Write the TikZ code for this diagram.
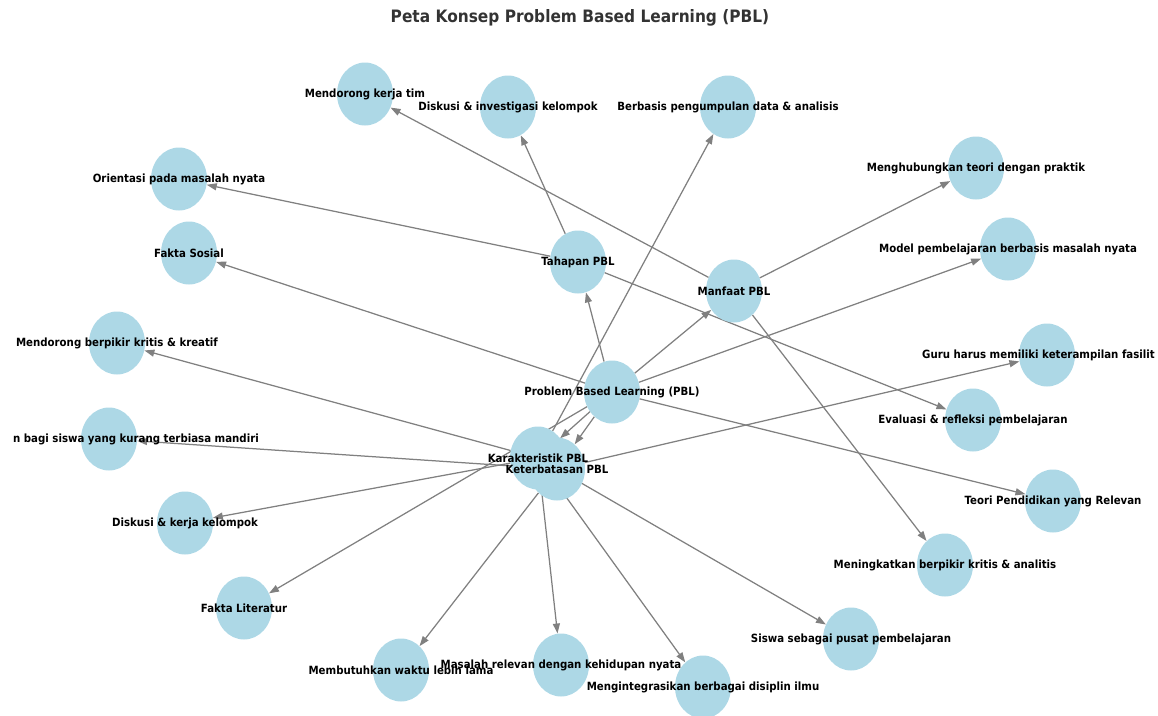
\documentclass[tikz,border=0pt]{standalone}
\usepackage{fontspec}
\setmainfont{DejaVu Sans}
\usetikzlibrary{shapes.geometric,arrows.meta}
\definecolor{nodeblue}{HTML}{ADD8E6}
\definecolor{edgegray}{HTML}{808080}
\definecolor{titlegray}{HTML}{333333}
\pgfdeclarelayer{edges}
\pgfsetlayers{edges,main}
\tikzset{
  concept/.style={ellipse, fill=nodeblue, draw=none, minimum width=56pt, minimum height=63pt, inner sep=0pt},
  lbl/.style={inner sep=0pt, font=\fontsize{10.2}{12}\selectfont\bfseries, text=black},
  edge/.style={draw=edgegray, line width=1.25pt, -{Triangle[length=10pt,width=7pt]}},
  titletext/.style={inner sep=0pt, font=\fontsize{15.4}{18}\selectfont\bfseries, text=titlegray}
}
\newcommand{\tallbox}[1]{\scalebox{1}[1.11]{#1}}
\begin{document}
\begin{tikzpicture}[x=1pt,y=-1pt]
\useasboundingbox (0,0) rectangle (1158,715);
\clip (0,0) rectangle (1158,715);
\node[titletext] (title) at (580,18) {\tallbox{Peta Konsep Problem Based Learning (PBL)}};
% ellipses
\node[concept] (pbl) at (612,392) {};
\node[concept] (tah) at (578,262) {};
\node[concept] (man) at (734,291) {};
\node[concept] (kar) at (538,458) {};
\node[concept] (ket) at (557,469) {};
\node[concept] (mkt) at (365,94) {};
\node[concept] (dik) at (508,107) {};
\node[concept] (ber) at (728,107) {};
\node[concept] (ori) at (179,179) {};
\node[concept] (mhb) at (976,168) {};
\node[concept] (fso) at (189,253) {};
\node[concept] (mod) at (1008,249) {};
\node[concept] (mbk) at (117,343) {};
\node[concept] (gur) at (1047,355) {};
\node[concept] (tan) at (109,439) {};
\node[concept] (eva) at (973,420) {};
\node[concept] (dkk) at (185,523) {};
\node[concept] (teo) at (1053,501) {};
\node[concept] (mna) at (945,565) {};
\node[concept] (fli) at (244,608) {};
\node[concept] (sis) at (851,639) {};
\node[concept] (mbw) at (401,670) {};
\node[concept] (mrl) at (561,665) {};
\node[concept] (mid) at (703,687) {};
% edges
\begin{pgfonlayer}{edges}
\draw[edge] (pbl) -- (tah);
\draw[edge] (pbl) -- (man);
\draw[edge] (pbl) -- (kar);
\draw[edge] (pbl) -- (ket);
\draw[edge] (pbl) -- (fso);
\draw[edge] (pbl) -- (fli);
\draw[edge] (pbl) -- (mod);
\draw[edge] (pbl) -- (teo);
\draw[edge] (tah) -- (dik);
\draw[edge] (tah) -- (ori);
\draw[edge] (tah) -- (eva);
\draw[edge] (man) -- (mkt);
\draw[edge] (man) -- (mhb);
\draw[edge] (man) -- (mna);
\draw[edge] (kar) -- (ber);
\draw[edge] (kar) -- (mbk);
\draw[edge] (kar) -- (dkk);
\draw[edge] (kar) -- (mrl);
\draw[edge] (kar) -- (mid);
\draw[edge] (kar) -- (sis);
\draw[edge] (ket) -- (mbw);
\draw[edge] (ket) -- (tan);
\draw[edge] (ket) -- (gur);
\end{pgfonlayer}
% labels
\node[lbl] (pbl-t) at (pbl.center) {\tallbox{Problem Based Learning (PBL)}};
\node[lbl] (tah-t) at (tah.center) {\tallbox{Tahapan PBL}};
\node[lbl] (man-t) at (man.center) {\tallbox{Manfaat PBL}};
\node[lbl] (kar-t) at (kar.center) {\tallbox{Karakteristik PBL}};
\node[lbl] (ket-t) at (ket.center) {\tallbox{Keterbatasan PBL}};
\node[lbl] (mkt-t) at (mkt.center) {\tallbox{Mendorong kerja tim}};
\node[lbl] (dik-t) at (dik.center) {\tallbox{Diskusi \& investigasi kelompok}};
\node[lbl] (ber-t) at (ber.center) {\tallbox{Berbasis pengumpulan data \& analisis}};
\node[lbl] (ori-t) at (ori.center) {\tallbox{Orientasi pada masalah nyata}};
\node[lbl] (mhb-t) at (mhb.center) {\tallbox{Menghubungkan teori dengan praktik}};
\node[lbl] (fso-t) at (fso.center) {\tallbox{Fakta Sosial}};
\node[lbl] (mod-t) at (mod.center) {\tallbox{Model pembelajaran berbasis masalah nyata}};
\node[lbl] (mbk-t) at (mbk.center) {\tallbox{Mendorong berpikir kritis \& kreatif}};
\node[lbl,anchor=west] (gur-t) at (922,355) {\tallbox{Guru harus memiliki keterampilan fasilit}};
\node[lbl,anchor=east] (tan-t) at (259,439) {\tallbox{n bagi siswa yang kurang terbiasa mandiri}};
\node[lbl] (eva-t) at (eva.center) {\tallbox{Evaluasi \& refleksi pembelajaran}};
\node[lbl] (dkk-t) at (dkk.center) {\tallbox{Diskusi \& kerja kelompok}};
\node[lbl] (teo-t) at (teo.center) {\tallbox{Teori Pendidikan yang Relevan}};
\node[lbl] (mna-t) at (mna.center) {\tallbox{Meningkatkan berpikir kritis \& analitis}};
\node[lbl] (fli-t) at (fli.center) {\tallbox{Fakta Literatur}};
\node[lbl] (sis-t) at (sis.center) {\tallbox{Siswa sebagai pusat pembelajaran}};
\node[lbl] (mbw-t) at (mbw.center) {\tallbox{Membutuhkan waktu lebih lama}};
\node[lbl] (mrl-t) at (mrl.center) {\tallbox{Masalah relevan dengan kehidupan nyata}};
\node[lbl] (mid-t) at (mid.center) {\tallbox{Mengintegrasikan berbagai disiplin ilmu}};
\end{tikzpicture}
\end{document}
